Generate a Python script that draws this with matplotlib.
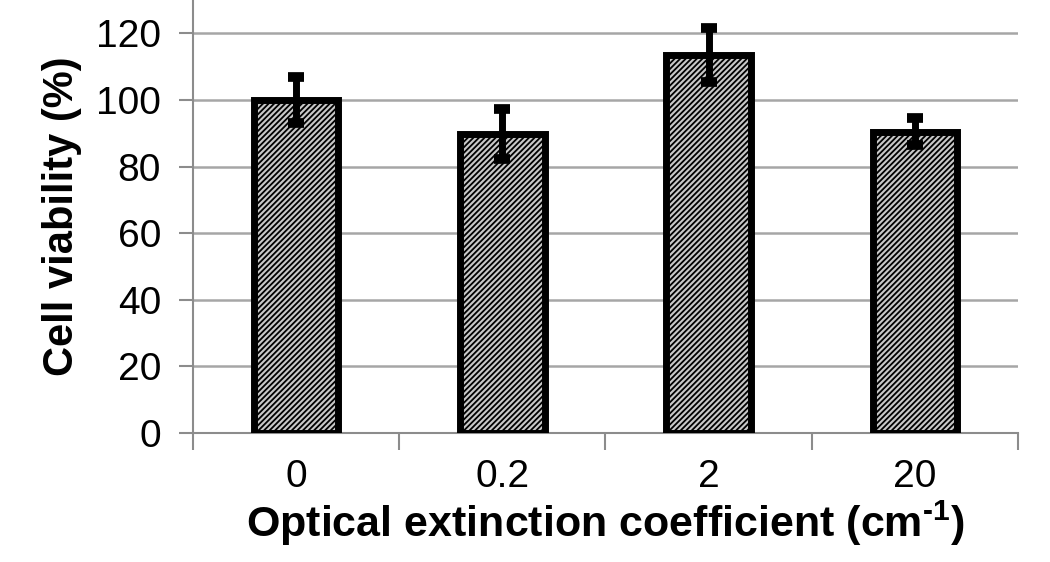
import numpy as np
import matplotlib
matplotlib.use('Agg')
import matplotlib.pyplot as plt

categories = ['0', '0.2', '2', '20']
viability = [100, 89.7, 113.5, 90.5]
errors = [7, 7.5, 8, 4]
yticks = [0, 20, 40, 60, 80, 100, 120]

plt.rcParams['font.family'] = ['Liberation Sans', 'DejaVu Sans']
plt.rcParams['hatch.color'] = '#2a2a2a'
plt.rcParams['hatch.linewidth'] = 1.3

fig = plt.figure(figsize=(10.5, 5.62), dpi=100)
ax = fig.add_axes([0.1838, 0.2295, 0.7857, 0.7705])

x = np.arange(len(categories))
ax.bar(x, viability, width=0.41, color='#c8c8c8', edgecolor='black',
       linewidth=5, hatch='//////', zorder=3)
ax.errorbar(x, viability, yerr=errors, fmt='none', ecolor='black',
            elinewidth=5, capsize=6, capthick=7, zorder=4)

ax.set_xlim(-0.5, 3.5)
ax.set_ylim(0, 130)
ax.set_yticks(yticks)
ax.set_yticklabels([str(t) for t in yticks], fontsize=28)
ax.set_xticks(x)
ax.set_xticklabels(categories, fontsize=28)
ax.set_xticks(np.arange(-0.5, 4, 1), minor=True)
ax.tick_params(axis='x', which='major', length=0, pad=19)
ax.tick_params(axis='x', which='minor', length=12, width=1.5, color='#8c8c8c', direction='out')
ax.tick_params(axis='y', length=10, width=1.5, color='#8c8c8c', pad=13)

ax.grid(axis='y', color='#a6a6a6', linewidth=1.8, zorder=0)
for side in ['top', 'right']:
    ax.spines[side].set_visible(False)
for side in ['left', 'bottom']:
    ax.spines[side].set_color('#8c8c8c')
    ax.spines[side].set_linewidth(1.5)

ax.set_ylabel('Cell viability (%)', fontsize=30, fontweight='bold', labelpad=10)
ax.set_xlabel('Optical extinction coefficient (cm$^{\\mathregular{\u20101}}$)', fontsize=31,
              fontweight='bold', labelpad=2)

fig.savefig('out.png', dpi=100)
